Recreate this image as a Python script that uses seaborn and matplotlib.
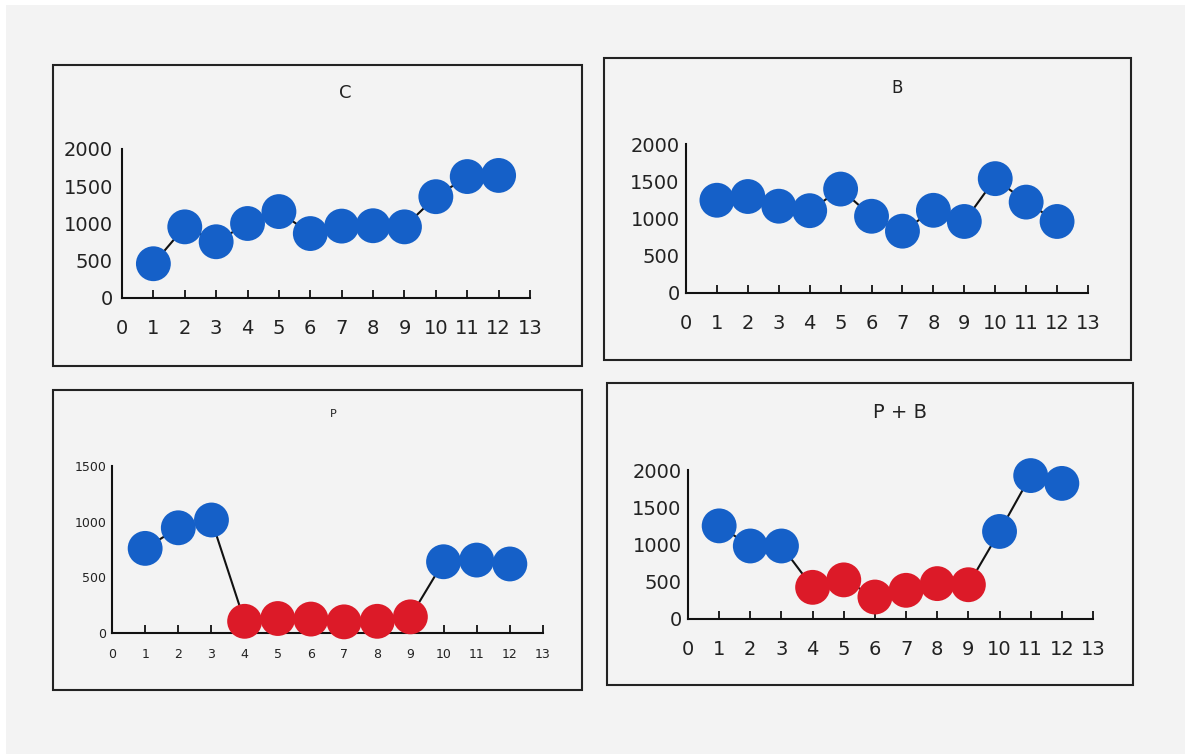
import pandas as pd
import matplotlib
matplotlib.use("Agg")
import matplotlib.pyplot as plt
from matplotlib.patches import Rectangle
import seaborn as sns

# values
months = [1, 2, 3, 4, 5, 6, 7, 8, 9, 10, 11, 12]
c_values = [460, 955, 755, 1000, 1160, 865, 965, 970, 955, 1360, 1630, 1645]
b_values = [1245, 1295, 1165, 1105, 1395, 1030, 830, 1110, 960, 1535, 1220, 960]
p_values = [760, 945, 1015, 105, 130, 125, 100, 105, 145, 640, 655, 620]
pb_values = [1250, 980, 980, 425, 525, 295, 385, 475, 460, 1175, 1925, 1820]
phase = ["A", "A", "A", "T", "T", "T", "T", "T", "T", "A", "A", "A"]
no_phase = ["A"] * 12

blue = "#1560c8"
red = "#dc1a28"
bg = "#f3f3f3"

sns.set_theme(style="white")
plt.rcParams["font.family"] = ["DejaVu Sans"]

W, H = 1185, 754
fig = plt.figure(figsize=(W / 100, H / 100), dpi=100)
fig.patch.set_facecolor("white")
fig.patches.append(Rectangle((6 / W, 0), 1 - 6 / W, 1 - 5 / H, transform=fig.transFigure,
                             facecolor=bg, edgecolor="none", zorder=-10))


def frac(l, t, r, b):
    return [l / W, 1 - b / H, (r - l) / W, (b - t) / H]


def panel(box, area, title, tx, ty, tsize, values, kinds, ymax, lsize, xpad, ypad):
    l, t, r, b = box
    fig.patches.append(Rectangle((l / W, 1 - b / H), (r - l) / W, (b - t) / H,
                                 transform=fig.transFigure, facecolor="none",
                                 edgecolor="#222222", linewidth=1.5))
    fig.text(tx / W, 1 - ty / H, title, ha="center", va="center", fontsize=tsize, color="#222222")

    ax = fig.add_axes(frac(*area))
    ax.set_facecolor("none")
    df = pd.DataFrame({"month": months, "value": values, "kind": kinds})
    sns.lineplot(data=df, x="month", y="value", color="#111111", linewidth=1.5, ax=ax,
                 zorder=2, clip_on=False)
    sns.scatterplot(data=df, x="month", y="value", hue="kind", palette={"A": blue, "T": red},
                    s=630, edgecolor="none", legend=False, ax=ax, zorder=3, clip_on=False)
    ax.set_xlim(0, 13)
    ax.set_ylim(0, ymax)
    ax.set_xticks(range(0, 14))
    ax.set_yticks(range(0, ymax + 1, 500))
    ax.set_yticks([ymax], minor=True)
    ax.set_xlabel("")
    ax.set_ylabel("")
    sns.despine(ax=ax)
    for s in ["left", "bottom"]:
        ax.spines[s].set_color("#111111")
        ax.spines[s].set_linewidth(1.5)
    ax.tick_params(axis="x", which="major", direction="in", length=6, width=1.3, color="#111111",
                   labelsize=lsize, pad=xpad, labelcolor="#222222", bottom=True)
    ax.tick_params(axis="y", which="major", length=0, labelsize=lsize, pad=ypad, labelcolor="#222222")
    ax.tick_params(axis="y", which="minor", direction="in", length=6, width=1.3, color="#111111", left=True)
    ax.xaxis.get_major_ticks()[0].tick1line.set_visible(False)
    return ax


panel((53, 65, 582, 366), (122, 149, 530, 298), "C", 345, 93, 13,
      c_values, no_phase, 2000, 14, 15, 6.5)
panel((604, 58, 1131, 360), (686, 144, 1088, 293), "B", 897, 88, 12,
      b_values, no_phase, 2000, 14, 15, 4.5)
panel((53, 390, 582, 690), (112, 466, 543, 633), "P", 333, 414, 8,
      p_values, phase, 1500, 9, 11, 4)
panel((607, 383, 1133, 685), (688, 470, 1093, 619), "P + B", 900, 413, 14,
      pb_values, phase, 2000, 14, 15, 4.5)

fig.savefig("out.png", dpi=100, facecolor=fig.get_facecolor())
